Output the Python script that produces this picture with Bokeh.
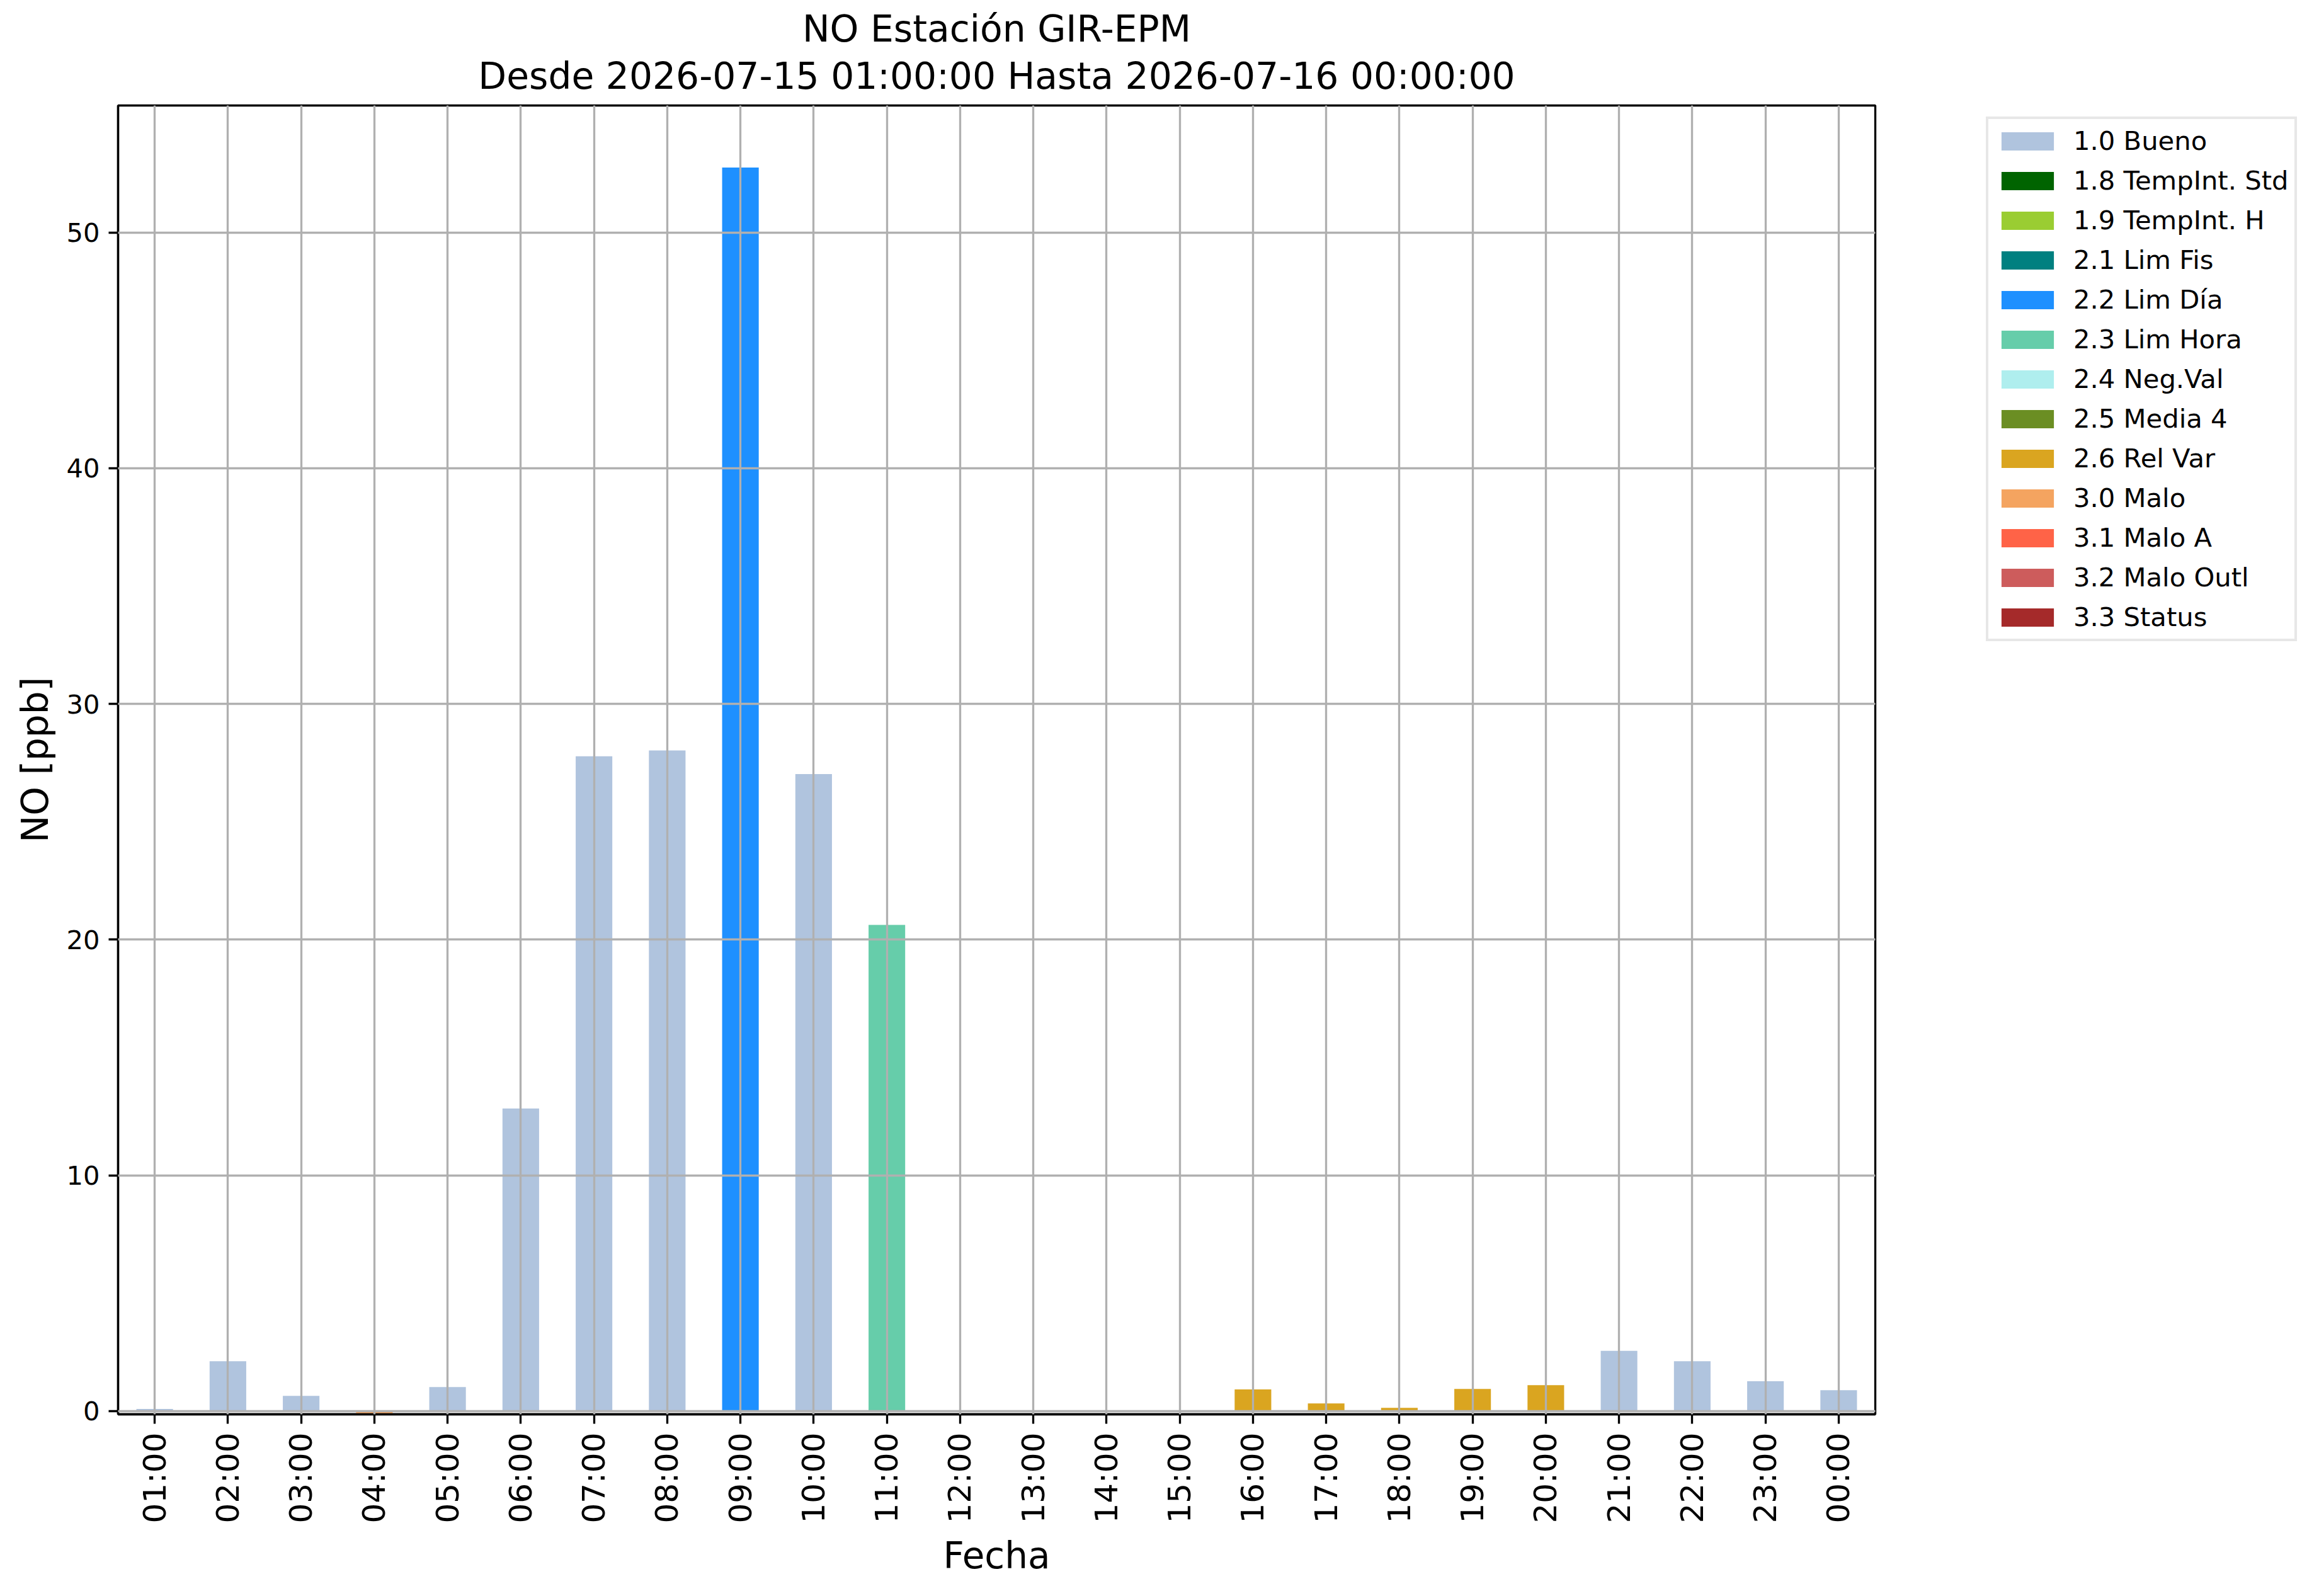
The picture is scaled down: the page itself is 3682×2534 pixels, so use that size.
import math
from bokeh.plotting import figure
from bokeh.models import (ColumnDataSource, FactorRange, Range1d, FixedTicker,
                          Legend, LegendItem, Title)
from bokeh.embed import file_html
from bokeh.resources import INLINE

# ---------------- data ----------------
hours = ["01:00", "02:00", "03:00", "04:00", "05:00", "06:00", "07:00", "08:00",
         "09:00", "10:00", "11:00", "12:00", "13:00", "14:00", "15:00", "16:00",
         "17:00", "18:00", "19:00", "20:00", "21:00", "22:00", "23:00", "00:00"]

bueno = [0.09, 2.12, 0.65, None, 1.02, 12.84, 27.78, 28.03, None, 27.03, None, None,
         None, None, None, None, None, None, None, None, 2.56, 2.12, 1.27, 0.89]
lim_dia = [None] * 8 + [52.76] + [None] * 15
lim_hora = [None] * 10 + [20.63] + [None] * 13
rel_var = [None] * 15 + [0.92, 0.33, 0.14, 0.94, 1.10] + [None] * 4
malo = [None] * 3 + [-0.10] + [None] * 20
empty = [None] * 24

categories = ["1.0 Bueno", "1.8 TempInt. Std", "1.9 TempInt. H", "2.1 Lim Fis",
              "2.2 Lim Día", "2.3 Lim Hora", "2.4 Neg.Val", "2.5 Media 4",
              "2.6 Rel Var", "3.0 Malo", "3.1 Malo A", "3.2 Malo Outl", "3.3 Status"]
colors = ["#B0C4DE", "#006400", "#9ACD32", "#008080", "#1E90FF", "#66CDAA",
          "#AFEEEE", "#6B8E23", "#DAA520", "#F4A460", "#FF6347", "#CD5C5C", "#A52A2A"]
series = [bueno, empty, empty, empty, lim_dia, lim_hora, empty, empty,
          rel_var, malo, empty, empty, empty]

title_line1 = "NO Estación GIR-EPM"
title_line2 = "Desde 2026-07-15 01:00:00 Hasta 2026-07-16 00:00:00"
x_label = "Fecha"
y_label = "NO [ppb]"
y_ticks = [0, 10, 20, 30, 40, 50]

FONT = "DejaVu Sans"
LW = 3.33

p = figure(x_range=FactorRange(factors=hours, range_padding=0),
           y_range=Range1d(-0.134, 55.39),
           frame_width=2790, frame_height=2078,
           min_border_left=187, min_border_top=167,
           min_border_right=672, min_border_bottom=262,
           output_backend="svg", toolbar_location=None, title=None,
           background_fill_color="white", border_fill_color="white")

items = []
for name, col, vals in zip(categories, colors, series):
    # missing hours are zero-height bars (as pandas stacking does with NaN)
    tops = [v if v is not None else 0.0 for v in vals]
    src = ColumnDataSource(dict(x=hours, top=tops))
    r = p.vbar(x="x", top="top", bottom=0, width=0.5, source=src,
               fill_color=col, line_color=None)
    items.append(LegendItem(label=name, renderers=[r]))

# grid over bars like matplotlib
for g in (p.xgrid, p.ygrid):
    g.grid_line_color = "#b0b0b0"
    g.grid_line_width = LW
    g.level = "overlay"

p.yaxis.ticker = FixedTicker(ticks=y_ticks)
p.outline_line_color = "black"
p.outline_line_width = LW

for ax in (p.xaxis[0], p.yaxis[0]):
    ax.axis_line_width = LW
    ax.axis_line_color = "black"
    ax.major_tick_line_width = LW
    ax.major_tick_line_color = "black"
    ax.major_tick_out = 15
    ax.major_tick_in = 0
    ax.minor_tick_line_color = None
    ax.major_label_text_font = FONT
    ax.major_label_text_color = "black"
    ax.major_label_standoff = 14
    ax.axis_label_text_font = FONT
    ax.axis_label_text_font_style = "normal"
    ax.axis_label_text_font_size = "58px"
    ax.axis_label_text_color = "black"

p.xaxis.axis_label = x_label
p.yaxis.axis_label = y_label
p.xaxis.major_label_text_font_size = "50px"
p.yaxis.major_label_text_font_size = "41.7px"
p.xaxis.major_label_orientation = math.pi / 2
p.xaxis.axis_label_standoff = 14
p.yaxis.axis_label_standoff = 12

p.add_layout(Title(text=title_line2, align="center", text_font=FONT,
                   text_font_size="58.3px", text_font_style="normal",
                   text_color="black", standoff=26), "above")
p.add_layout(Title(text=title_line1, align="center", text_font=FONT,
                   text_font_size="58.3px", text_font_style="normal",
                   text_color="black", standoff=-17), "above")

legend = Legend(items=items, location=(176, 1227), margin=0,
                label_text_font=FONT, label_text_font_size="41.7px",
                label_text_color="black",
                glyph_width=104, glyph_height=36, label_standoff=21,
                spacing=14, padding=10,
                border_line_color="#cfcfcf", border_line_width=4,
                background_fill_color="white", background_fill_alpha=1.0)
p.add_layout(legend, "right")

open("out.html", "w").write(file_html(p, INLINE))
